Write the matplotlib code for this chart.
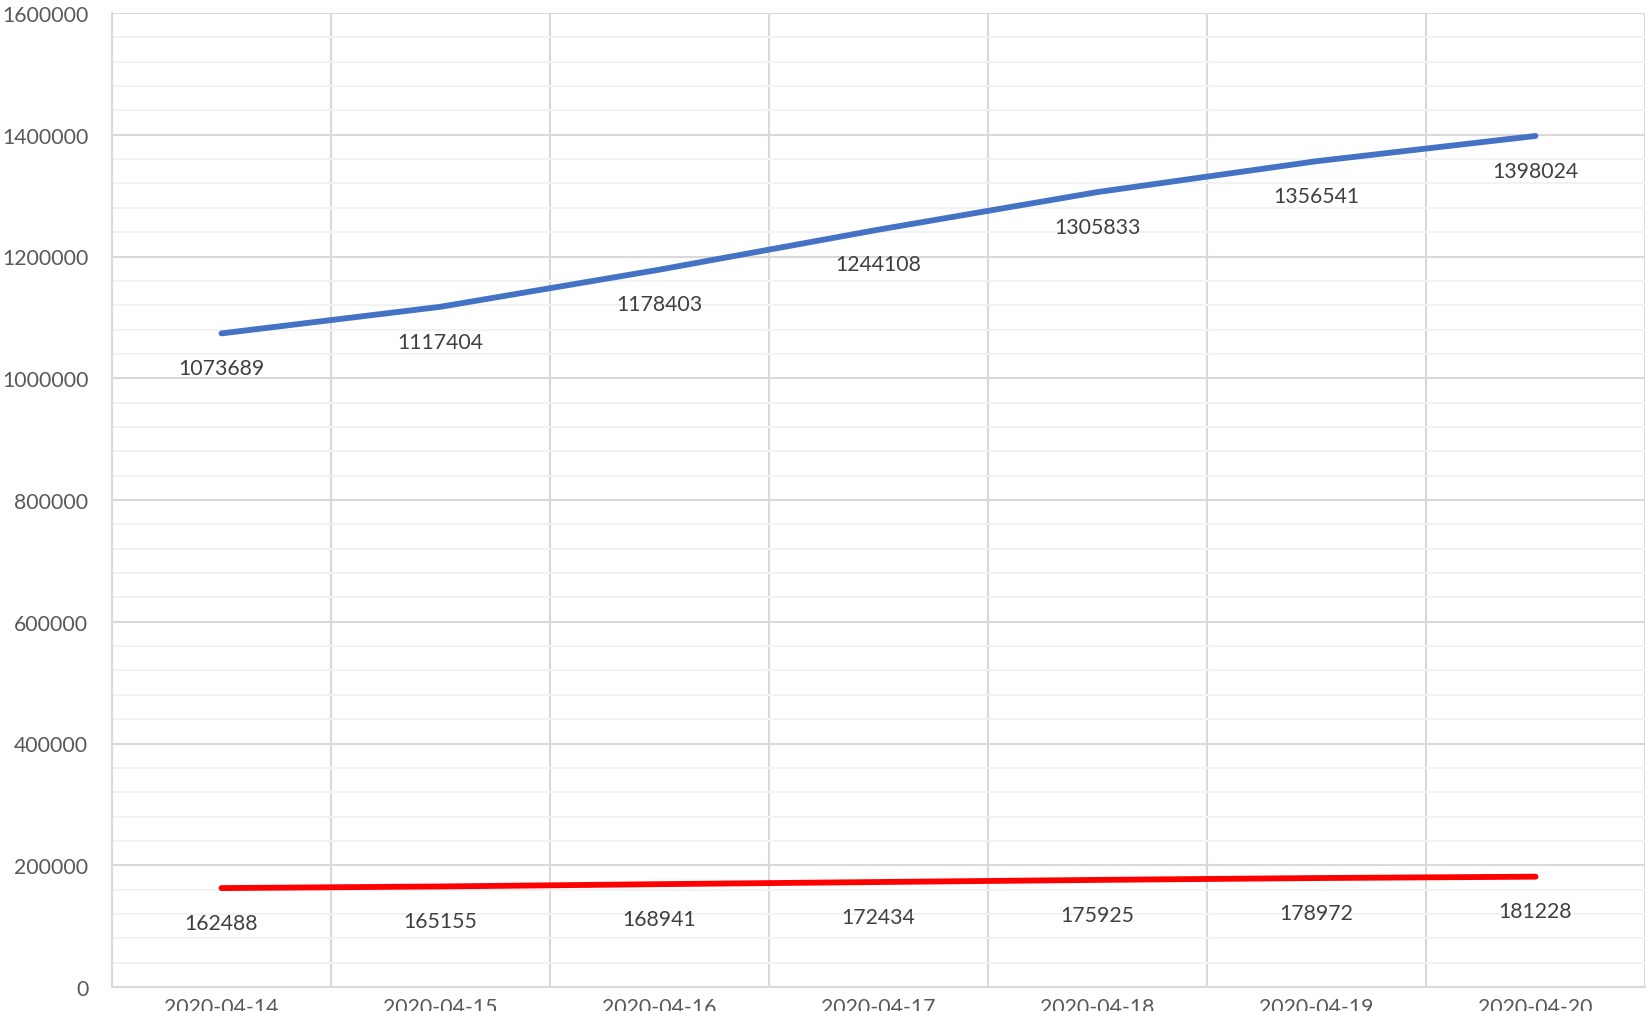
import matplotlib.pyplot as plt
from matplotlib.ticker import MultipleLocator

dates = ['2020-04-14', '2020-04-15', '2020-04-16', '2020-04-17',
         '2020-04-18', '2020-04-19', '2020-04-20']
blue_values = [1073689, 1117404, 1178403, 1244108, 1305833, 1356541, 1398024]
red_values = [162488, 165155, 168941, 172434, 175925, 178972, 181228]

plt.rcParams['font.family'] = ['Lato', 'DejaVu Sans']

fig = plt.figure(figsize=(16.47, 10.12), dpi=100)
ax = fig.add_axes([112 / 1647, 24 / 1012, 1533 / 1647, 974 / 1012])

x = list(range(len(dates)))

# horizontal gridlines (major + minor), vertical gridlines at category edges
ax.set_ylim(0, 1600000)
ax.set_xlim(-0.5, len(dates) - 0.5)
ax.yaxis.set_major_locator(MultipleLocator(200000))
ax.yaxis.set_minor_locator(MultipleLocator(40000))
ax.grid(which='major', axis='y', color='#D9D9D9', linewidth=1.5, zorder=0)
ax.grid(which='minor', axis='y', color='#F2F2F2', linewidth=1.5, zorder=0)
for k in range(len(dates) + 1):
    ax.axvline(k - 0.5, color='#D9D9D9', linewidth=1.5, zorder=0)

ax.plot(x, blue_values, color='#4472C4', linewidth=4.2, solid_capstyle='round', zorder=3)
ax.plot(x, red_values, color='#FF0000', linewidth=4.2, solid_capstyle='round', zorder=3)

# data labels below points
for xi, v in zip(x, blue_values):
    ax.annotate(str(v), (xi, v), xytext=(0, -25), textcoords='offset points',
                ha='center', va='center', fontsize=15.3, color='#404040')
for xi, v in zip(x, red_values):
    ax.annotate(str(v), (xi, v), xytext=(0, -25), textcoords='offset points',
                ha='center', va='center', fontsize=15.3, color='#404040')

ax.set_xticks(x)
ax.set_xticklabels(dates)
ax.tick_params(axis='x', length=0, pad=7, labelsize=15.3, labelcolor='#595959')
ax.tick_params(axis='y', which='both', length=0, pad=17, labelsize=15.3, labelcolor='#595959')
ax.yaxis.set_major_formatter(plt.FuncFormatter(lambda v, p: f'{int(v)}'))

for side in ['top', 'right']:
    ax.spines[side].set_visible(False)
ax.spines['left'].set_color('#D9D9D9')
ax.spines['bottom'].set_color('#D9D9D9')
ax.spines['left'].set_linewidth(1.5)
ax.spines['bottom'].set_linewidth(1.5)

fig.savefig('out.png', dpi=100)
